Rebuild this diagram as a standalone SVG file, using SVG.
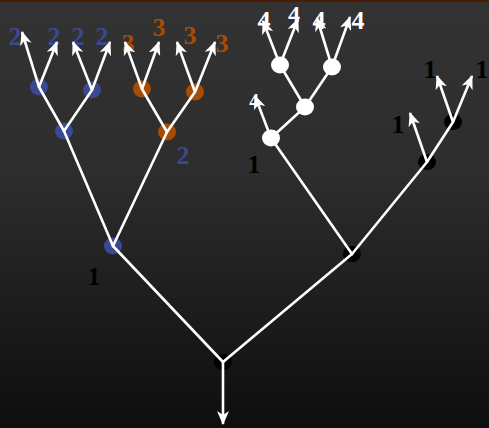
<svg xmlns="http://www.w3.org/2000/svg" width="489" height="428" viewBox="0 0 489 428">
<defs>
<linearGradient id="bg" x1="0" y1="0" x2="0" y2="1">
<stop offset="0" stop-color="#333333"/>
<stop offset="0.4" stop-color="#2d2d2d"/>
<stop offset="1" stop-color="#0e0e0e"/>
</linearGradient>
<marker id="ah" viewBox="0 0 14 12" refX="13" refY="6" markerWidth="14" markerHeight="12" markerUnits="userSpaceOnUse" orient="auto">
<path d="M0,0 L14,6 L0,12 L4,6 Z" fill="#ffffff"/>
</marker>
<style>
.blue{fill:#3b4990}
.orange{fill:#a84c04}
.white{fill:#ffffff}
.black{fill:#000000}
text{font-family:"Liberation Serif","Times New Roman",serif;font-weight:bold;font-size:26px;text-anchor:middle}
.tb{fill:#3b4990}
.to{fill:#a84c04}
.tw{fill:#ffffff}
.tk{fill:#000000}
.edge{stroke:#ffffff;stroke-width:2.6;fill:none;stroke-linecap:round}
.arr{stroke:#ffffff;stroke-width:2.6;fill:none;marker-end:url(#ah)}
</style>
</defs>
<rect width="489" height="428" fill="url(#bg)"/>
<rect width="489" height="2" fill="#4a1e04"/>

<g id="labels">
<text class="tb" x="15" y="45">2</text>
<text class="tb" x="54" y="45">2</text>
<text class="tb" x="78" y="45">2</text>
<text class="tb" x="102" y="45">2</text>
<text class="to" x="128" y="52">3</text>
<text class="to" x="159" y="36">3</text>
<text class="to" x="190" y="44">3</text>
<text class="to" x="222" y="52">3</text>
<text class="tb" x="183" y="164">2</text>
<text class="tk" x="94" y="285">1</text>
<text class="tw" x="264" y="29">4</text>
<text class="tw" x="294" y="22" style="font-size:24px">4</text>
<text class="tw" x="319" y="29">4</text>
<text class="tw" x="358" y="29">4</text>
<text class="tw" x="254" y="107" style="font-size:19px">4</text>
<text class="tk" x="254" y="173">1</text>
<text class="tk" x="430" y="78">1</text>
<text class="tk" x="482" y="78">1</text>
<text class="tk" x="398" y="133">1</text>
</g>

<g id="node-b1"><ellipse class="blue" cx="39" cy="87" rx="9" ry="8.5"/></g>
<g id="node-b2"><ellipse class="blue" cx="92" cy="90" rx="9" ry="8.5"/></g>
<g id="node-b3"><ellipse class="blue" cx="64" cy="131" rx="9" ry="8.5"/></g>
<g id="node-b4"><ellipse class="blue" cx="113" cy="246" rx="9" ry="8.5"/></g>
<g id="node-o1"><ellipse class="orange" cx="142" cy="89" rx="9" ry="8.5"/></g>
<g id="node-o2"><ellipse class="orange" cx="195" cy="92" rx="9" ry="8.5"/></g>
<g id="node-o3"><ellipse class="orange" cx="167" cy="132" rx="9" ry="8.5"/></g>
<g id="node-w1"><ellipse class="white" cx="280" cy="65" rx="9" ry="8.5"/></g>
<g id="node-w2"><ellipse class="white" cx="332" cy="67" rx="9" ry="8.5"/></g>
<g id="node-w3"><ellipse class="white" cx="305" cy="107" rx="9" ry="8.5"/></g>
<g id="node-w4"><ellipse class="white" cx="271" cy="138" rx="9" ry="8.5"/></g>
<g id="node-k1"><ellipse class="black" cx="352" cy="254" rx="9" ry="8"/></g>
<g id="node-k2"><ellipse class="black" cx="427" cy="162" rx="9" ry="8"/></g>
<g id="node-k3"><ellipse class="black" cx="453" cy="122" rx="9" ry="8"/></g>
<g id="node-root"><ellipse class="black" cx="223" cy="362" rx="9" ry="8"/></g>

<g id="connectors">
<line class="edge" x1="39" y1="87" x2="64" y2="131"/>
<line class="edge" x1="92" y1="90" x2="64" y2="131"/>
<line class="edge" x1="64" y1="131" x2="113" y2="246"/>
<line class="edge" x1="142" y1="89" x2="167" y2="132"/>
<line class="edge" x1="195" y1="92" x2="167" y2="132"/>
<line class="edge" x1="167" y1="132" x2="113" y2="246"/>
<line class="edge" x1="113" y1="246" x2="223" y2="362"/>
<line class="edge" x1="280" y1="65" x2="305" y2="107"/>
<line class="edge" x1="332" y1="67" x2="305" y2="107"/>
<line class="edge" x1="305" y1="107" x2="271" y2="138"/>
<line class="edge" x1="271" y1="138" x2="352" y2="254"/>
<line class="edge" x1="352" y1="254" x2="427" y2="162"/>
<line class="edge" x1="427" y1="162" x2="453" y2="122"/>
<line class="edge" x1="352" y1="254" x2="223" y2="362"/>

<line class="arr" x1="39" y1="87" x2="22" y2="32"/>
<line class="arr" x1="39" y1="87" x2="57" y2="42"/>
<line class="arr" x1="92" y1="90" x2="73" y2="42"/>
<line class="arr" x1="92" y1="90" x2="110" y2="42"/>
<line class="arr" x1="142" y1="89" x2="125" y2="42"/>
<line class="arr" x1="142" y1="89" x2="159" y2="42"/>
<line class="arr" x1="195" y1="92" x2="177" y2="42"/>
<line class="arr" x1="195" y1="92" x2="215" y2="42"/>
<line class="arr" x1="280" y1="65" x2="263" y2="21"/>
<line class="arr" x1="280" y1="65" x2="298" y2="19"/>
<line class="arr" x1="332" y1="67" x2="317" y2="18"/>
<line class="arr" x1="332" y1="67" x2="350" y2="17"/>
<line class="arr" x1="271" y1="138" x2="255" y2="96"/>
<line class="arr" x1="427" y1="162" x2="410" y2="113"/>
<line class="arr" x1="453" y1="122" x2="437" y2="76"/>
<line class="arr" x1="453" y1="122" x2="472" y2="76"/>
<line class="arr" x1="223" y1="362" x2="223" y2="424"/>
</g>
</svg>
